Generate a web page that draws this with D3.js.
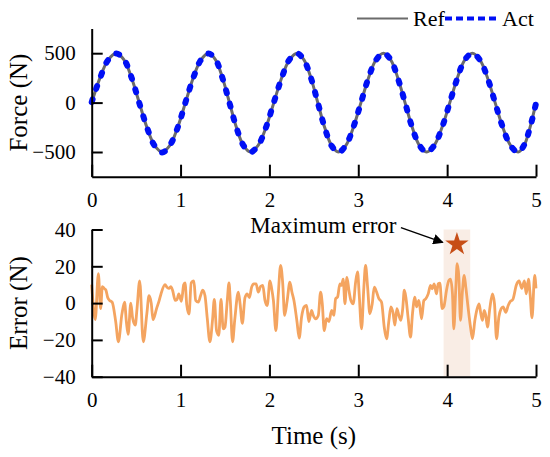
<!DOCTYPE html>
<html>
<head>
<meta charset="utf-8">
<script src="https://cdn.jsdelivr.net/npm/d3@7"></script>
<style>
  body { margin: 0; background: #fff; }
  svg text { font-family: "Liberation Serif", "Times New Roman", serif; }
</style>
</head>
<body>
<div id="chart"></div>
<script>
const svgWidth = 550;
const svgHeight = 457;
const serif = '"Liberation Serif", "Times New Roman", serif';

// tick values
const timeTicks = [0, 1, 2, 3, 4, 5];
const forceTicks = [-500, 0, 500];
const errorTicks = [-40, -20, 0, 20, 40];

// reference force
const refTime = [0, 0.093, 0.185, 0.278, 0.364, 0.449, 0.535, 0.621, 0.707, 0.793,
    0.880, 0.968, 1.055, 1.142, 1.229, 1.316, 1.394, 1.472, 1.55, 1.628, 1.707, 1.785,
    1.873, 1.962, 2.05, 2.137, 2.225, 2.312, 2.389, 2.467, 2.544, 2.621, 2.699, 2.776,
    2.861, 2.945, 3.03, 3.115, 3.199, 3.284, 3.365, 3.445, 3.526, 3.607, 3.687, 3.768,
    3.855, 3.943, 4.03, 4.115, 4.199, 4.284, 4.369, 4.455, 4.54, 4.626, 4.713, 4.799,
    4.866, 4.933, 5.0];
const refForce = [0, 250, 433, 500, 433, 250, 0, -250, -433, -500,
    -433, -250, 0, 250, 433, 500, 433, 250, 0, -250, -433, -500,
    -433, -250, 0, 250, 433, 500, 433, 250, 0, -250, -433, -500,
    -433, -250, 0, 250, 433, 500, 433, 250, 0, -250, -433, -500,
    -433, -250, 0, 250, 433, 500, 433, 250, 0, -250, -433, -500,
    -433, -250, 0];

// actual force
const actTime = [0, 0.093, 0.185, 0.278, 0.364, 0.449, 0.535, 0.621, 0.707, 0.793,
    0.880, 0.968, 1.055, 1.142, 1.229, 1.316, 1.394, 1.472, 1.55, 1.628, 1.707, 1.785,
    1.873, 1.962, 2.05, 2.137, 2.225, 2.312, 2.389, 2.467, 2.544, 2.621, 2.699, 2.776,
    2.861, 2.945, 3.03, 3.115, 3.199, 3.284, 3.365, 3.445, 3.526, 3.607, 3.687, 3.768,
    3.855, 3.943, 4.03, 4.115, 4.199, 4.284, 4.369, 4.455, 4.54, 4.626, 4.713, 4.799,
    4.866, 4.933, 5.0];
const actForce = [5, 246, 431, 497, 435, 252, -3, -248, -435, -505,
    -431, -252, 2, 247, 431, 496, 436, 248, -1, -251, -432, -502,
    -434, -249, 3, 246, 435, 498, 430, 251, 1, -250, -436, -504,
    -431, -248, -2, 251, 430, 499, 434, 247, 2, -252, -431, -501,
    -433, -251, 1, 246, 434, 497, 432, 250, -2, -249, -435, -503,
    -430, -252, -8];

// error
const errTime = [0, 0.04, 0.075, 0.10, 0.12, 0.14, 0.16, 0.18, 0.20, 0.23, 0.27, 0.30,
    0.34, 0.37, 0.39, 0.41, 0.44, 0.46, 0.49, 0.51, 0.54, 0.58, 0.62, 0.645, 0.67, 0.69,
    0.73, 0.76, 0.78, 0.825, 0.85, 0.87, 0.89, 0.91, 0.94, 0.96, 0.98, 1.01, 1.035, 1.05,
    1.07, 1.095, 1.12, 1.15, 1.17, 1.20, 1.225, 1.25, 1.275, 1.30, 1.33, 1.36, 1.38,
    1.405, 1.43, 1.455, 1.48, 1.50, 1.525, 1.545, 1.56, 1.585, 1.61, 1.65, 1.67, 1.695,
    1.725, 1.75, 1.775, 1.80, 1.825, 1.85, 1.875, 1.90, 1.925, 1.95, 1.975, 2.006, 2.025,
    2.045, 2.073, 2.10, 2.126, 2.15, 2.171, 2.20, 2.23, 2.253, 2.276, 2.31, 2.335, 2.362,
    2.392, 2.418, 2.444, 2.474, 2.493, 2.52, 2.55, 2.576, 2.595, 2.617, 2.643, 2.67, 2.70,
    2.726, 2.745, 2.767, 2.793, 2.812, 2.83, 2.85, 2.872, 2.895, 2.917, 2.943, 2.97, 2.992,
    3.01, 3.037, 3.063, 3.082, 3.105, 3.13, 3.157, 3.18, 3.206, 3.232, 3.262, 3.292, 3.318,
    3.345, 3.367, 3.39, 3.412, 3.434, 3.457, 3.48, 3.50, 3.518, 3.535, 3.562, 3.588, 3.61,
    3.637, 3.655, 3.682, 3.712, 3.738, 3.76, 3.787, 3.813, 3.832, 3.854, 3.88, 3.90, 3.918,
    3.944, 3.963, 3.993, 4.019, 4.038, 4.06, 4.075, 4.098, 4.113, 4.132, 4.15, 4.173, 4.192,
    4.21, 4.237, 4.263, 4.285, 4.312, 4.338, 4.36, 4.379, 4.398, 4.417, 4.435, 4.454, 4.48,
    4.51, 4.533, 4.556, 4.582, 4.608, 4.63, 4.66, 4.687, 4.705, 4.74, 4.78, 4.81, 4.84,
    4.87, 4.89, 4.915, 4.935, 4.955, 4.985, 5.0];
const errValue = [10, -9, 16, -3, 9, 8, 7, 3, 1.5, 0.5, -10, -21,
    -6, 0.5, -10, -17, 0, -8, -12, -3, 12, -21, -6, 4, 0, -9,
    -3, 1.5, 5, 10, 8.5, 8, 9, 7, 1.5, 2, 5, 1, 10, 11,
    -1, -6, 11, 12, 1.5, 0.5, 4, 7, 4, -8, -21, -9, 2,
    -15, -17.5, 2, -14, -13, 1, 11, 1, -21, -9, 6, -0.4, -11,
    3, 5, 3, 8.7, 10.5, 10.5, 6, 9, 9.6, 1.5, -1.3, 12, 8,
    1.4, -15, 5, 20.5, 10.5, -6.7, 1.4, 11.4, 6, 1.4, -10, -19, -7.6,
    -2, -1.3, -10, -4, -6.7, -8.5, -6.7, 6, -0.4, -15, -8.5, -10, -4,
    -6.7, 2.4, 3.3, 10.5, 9.6, 13, -0.4, 14, 6.9, 1.4, -0.4, 11.4, 17,
    5, -14, 8.7, 20.5, 8.7, -5.8, -0.4, 8.7, 6, 2.4, 0.5, -13, -19.4,
    -9.4, -2, -5, -12, -3, -6.7, -9.4, -3, 7, 3.3, -8.5, -18.5, -5.8,
    3.3, -2, 1.4, -8.5, 1.4, 2.4, 5, 9.6, 7.8, 10.5, 5, 10.5, 10.9,
    -3, -2, 7, 12.3, 13, 5, -14, 8.7, 21.4, 14, -9.4, 7, 15,
    8.7, -3, -13, -19.4, -9.4, -3, -0.4, -5.8, -9.4, -4, -6.7, -13, -3,
    5, -0.4, -19.4, -7.6, -3, -2, -5, -1.3, 0.5, 2, 10, 12, 8,
    12, 5, 13, 4, -8, 15, 8];

// maximum error annotation
const maxErrTime = 4.11;
const maxErrMarker = 32;
const maxErrWindow = [3.96, 4.26];

const svg = d3.select('#chart')
    .append('svg')
    .attr('width', svgWidth)
    .attr('height', svgHeight);

const x = d3.scaleLinear().domain([0, 5]).range([91.7, 536]);
const yTop = d3.scaleLinear().domain([-750, 750]).range([176.7, 28.5]);
const yBot = d3.scaleLinear().domain([-40, 40]).range([376.7, 229.5]);

// shaded window behind the error
svg.append('rect')
    .attr('x', x(maxErrWindow[0]))
    .attr('y', yBot(40))
    .attr('width', x(maxErrWindow[1]) - x(maxErrWindow[0]))
    .attr('height', yBot(-40) - yBot(40))
    .attr('fill', '#f9ede5');

// force lines
const refLine = d3.line()
    .x((d, i) => x(refTime[i]))
    .y(d => yTop(d))
    .curve(d3.curveCatmullRom.alpha(0.5));

const actLine = d3.line()
    .x((d, i) => x(actTime[i]))
    .y(d => yTop(d))
    .curve(d3.curveCatmullRom.alpha(0.5));

svg.append('path')
    .attr('d', refLine(refForce))
    .attr('fill', 'none')
    .attr('stroke', '#6b6b6b')
    .attr('stroke-width', 3);

svg.append('path')
    .attr('d', actLine(actForce))
    .attr('fill', 'none')
    .attr('stroke', '#0010f5')
    .attr('stroke-width', 6)
    .attr('stroke-linecap', 'round')
    .attr('stroke-dasharray', '3,11');

// error line
const errLine = d3.line()
    .x((d, i) => x(errTime[i]))
    .y(d => yBot(d))
    .curve(d3.curveMonotoneX);

svg.append('path')
    .attr('d', errLine(errValue))
    .attr('fill', 'none')
    .attr('stroke', '#f4a460')
    .attr('stroke-width', 2.8)
    .attr('stroke-linejoin', 'round');

// axes
function styleAxis(g) {
    g.attr('font-family', serif).attr('font-size', 21);
    g.select('.domain').attr('stroke', '#000').attr('stroke-width', 2);
    g.selectAll('.tick line').attr('stroke', '#000').attr('stroke-width', 2);
    g.selectAll('.tick text')
        .attr('fill', '#000')
        .attr('font-family', serif)
        .attr('font-size', 21);
}

svg.append('g')
    .attr('transform', `translate(0,${yTop(-750)})`)
    .call(d3.axisBottom(x).tickValues(timeTicks).tickFormat(d3.format('d'))
        .tickSizeInner(-12).tickSizeOuter(0).tickPadding(15))
    .call(styleAxis);

svg.append('g')
    .attr('transform', `translate(${x(0)},0)`)
    .call(d3.axisLeft(yTop).tickValues(forceTicks)
        .tickSizeInner(-11).tickSizeOuter(0).tickPadding(16))
    .call(styleAxis);

svg.append('g')
    .attr('transform', `translate(0,${yBot(-40)})`)
    .call(d3.axisBottom(x).tickValues(timeTicks).tickFormat(d3.format('d'))
        .tickSizeInner(-12).tickSizeOuter(0).tickPadding(15))
    .call(styleAxis);

svg.append('g')
    .attr('transform', `translate(${x(0)},0)`)
    .call(d3.axisLeft(yBot).tickValues(errorTicks)
        .tickSizeInner(-11).tickSizeOuter(0).tickPadding(16))
    .call(styleAxis);

// axis titles
svg.append('text')
    .attr('transform', `translate(27,${(yTop(-750) + yTop(750)) / 2}) rotate(-90)`)
    .attr('text-anchor', 'middle')
    .attr('font-size', 25)
    .text('Force (N)');

svg.append('text')
    .attr('transform', `translate(27,${(yBot(-40) + yBot(40)) / 2}) rotate(-90)`)
    .attr('text-anchor', 'middle')
    .attr('font-size', 25)
    .text('Error (N)');

svg.append('text')
    .attr('x', (x(0) + x(5)) / 2)
    .attr('y', 444)
    .attr('text-anchor', 'middle')
    .attr('font-size', 25)
    .text('Time (s)');

// legend
const legend = svg.append('g');
legend.append('line')
    .attr('x1', 357).attr('x2', 408).attr('y1', 18.5).attr('y2', 18.5)
    .attr('stroke', '#6b6b6b').attr('stroke-width', 1.8);
legend.append('text')
    .attr('x', 413).attr('y', 26)
    .attr('font-size', 22)
    .text('Ref');
legend.append('line')
    .attr('x1', 445).attr('x2', 497).attr('y1', 18.5).attr('y2', 18.5)
    .attr('stroke', '#0010f5').attr('stroke-width', 4)
    .attr('stroke-dasharray', '7,4');
legend.append('text')
    .attr('x', 502).attr('y', 26)
    .attr('font-size', 22)
    .text('Act');

// max error annotation
svg.append('defs').append('marker')
    .attr('id', 'arrow')
    .attr('viewBox', '0 0 10 10')
    .attr('refX', 9).attr('refY', 5)
    .attr('markerWidth', 7).attr('markerHeight', 7)
    .attr('markerUnits', 'strokeWidth')
    .attr('orient', 'auto')
    .append('path')
    .attr('d', 'M0,0 L10,5 L0,10 z')
    .attr('fill', '#000');

svg.append('line')
    .attr('x1', x(3.48)).attr('y1', yBot(41))
    .attr('x2', x(3.95)).attr('y2', yBot(33))
    .attr('stroke', '#000').attr('stroke-width', 1.5)
    .attr('marker-end', 'url(#arrow)');

svg.append('text')
    .attr('x', x(3.43))
    .attr('y', yBot(38))
    .attr('text-anchor', 'end')
    .attr('font-size', 23)
    .text('Maximum error');

svg.append('path')
    .attr('transform', `translate(${x(maxErrTime)},${yBot(maxErrMarker)})`)
    .attr('d', d3.symbol().type(d3.symbolStar).size(170)())
    .attr('fill', '#c74e16');
</script>
</body>
</html>
